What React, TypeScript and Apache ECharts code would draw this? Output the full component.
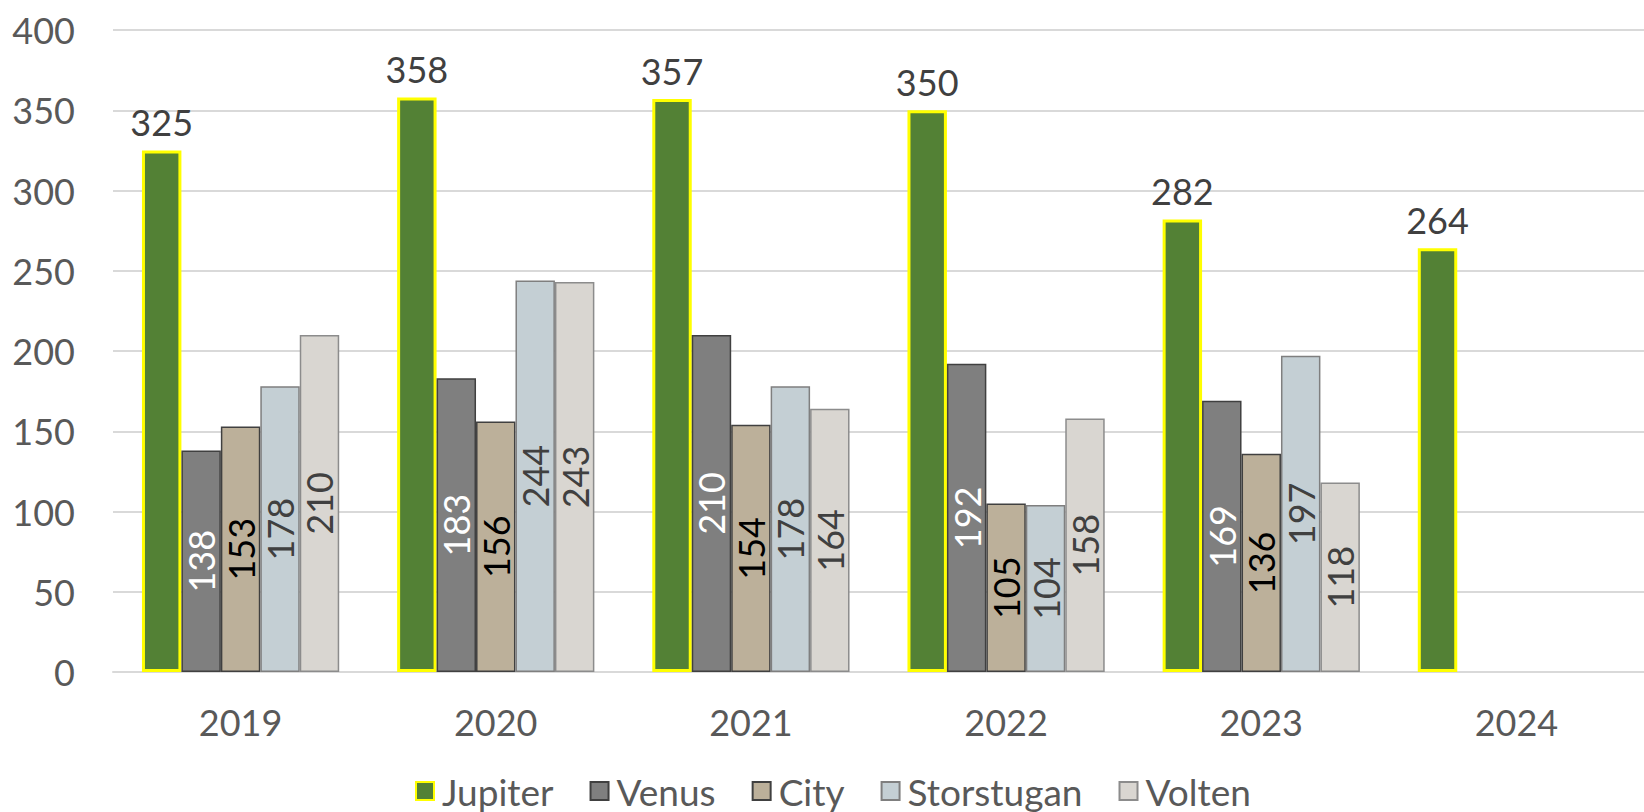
import React, { useEffect, useRef } from "react";
import * as echarts from "echarts";

const categories = ["2019", "2020", "2021", "2022", "2023", "2024"];
const jupiter = [325, 358, 357, 350, 282, 264];
const venus = [138, 183, 210, 192, 169, null];
const city = [153, 156, 154, 105, 136, null];
const storstugan = [178, 244, 178, 104, 197, null];
const volten = [210, 243, 164, 158, 118, null];
const yTicks = { min: 0, max: 400, interval: 50 };

const FONT = "Lato";

export default function App() {
  const ref = useRef<HTMLDivElement>(null);
  useEffect(() => {
    const chart = echarts.init(ref.current!, undefined, { renderer: "svg" });
    const insideLabel = (color: string) => ({
      show: true,
      position: "inside",
      rotate: 90,
      color,
      fontSize: 36,
      fontFamily: FONT,
    });
    const mk = (name: string, data: any[], fill: string, border: string, bw: number, label: any) => ({
      name,
      type: "bar",
      data,
      barGap: "0%",
      barCategoryGap: "22.7%",
      itemStyle: { color: fill, borderColor: border, borderWidth: bw },
      label,
    });
    chart.setOption({
      animation: false,
      textStyle: { fontFamily: FONT },
      grid: { left: 113, right: -10, top: 30, bottom: 140, containLabel: false },
      legend: {
        left: 410,
        top: 766,
        itemWidth: 18,
        itemHeight: 18,
        itemGap: 36,
        icon: "rect",
        textStyle: {
          fontSize: 37,
          lineHeight: 40,
          color: "#595959",
          fontFamily: FONT,
          padding: [0, 0, 0, 3],
        },
        data: ["Jupiter", "Venus", "City", "Storstugan", "Volten"],
      },
      xAxis: {
        type: "category",
        data: categories,
        axisLine: { show: true, lineStyle: { color: "#D9D9D9", width: 2 } },
        axisTick: { show: false },
        axisLabel: { fontSize: 36, color: "#595959", margin: 32, fontFamily: FONT },
      },
      yAxis: {
        type: "value",
        min: yTicks.min,
        max: yTicks.max,
        interval: yTicks.interval,
        axisLine: { show: false },
        axisTick: { show: false },
        splitLine: { lineStyle: { color: "#D9D9D9", width: 2 } },
        axisLabel: { fontSize: 36, color: "#595959", margin: 38, fontFamily: FONT },
      },
      series: [
        mk("Jupiter", jupiter, "#538135", "#FFFF00", 3, {
          show: true,
          position: "top",
          distance: 10,
          color: "#404040",
          fontSize: 36,
          fontFamily: FONT,
        }),
        mk("Venus", venus, "#7F7F7F", "#404040", 1.5, insideLabel("#FFFFFF")),
        mk("City", city, "#BCB09A", "#404040", 1.5, insideLabel("#000000")),
        mk("Storstugan", storstugan, "#C4CFD4", "#7F7F7F", 1.5, insideLabel("#404040")),
        mk("Volten", volten, "#D9D6D1", "#8C8C8C", 1.5, insideLabel("#404040")),
      ],
    });
    return () => chart.dispose();
  }, []);
  return (
    <div
      ref={ref}
      style={{ position: "fixed", left: 0, top: 0, width: 1644, height: 812, background: "#fff" }}
    />
  );
}
